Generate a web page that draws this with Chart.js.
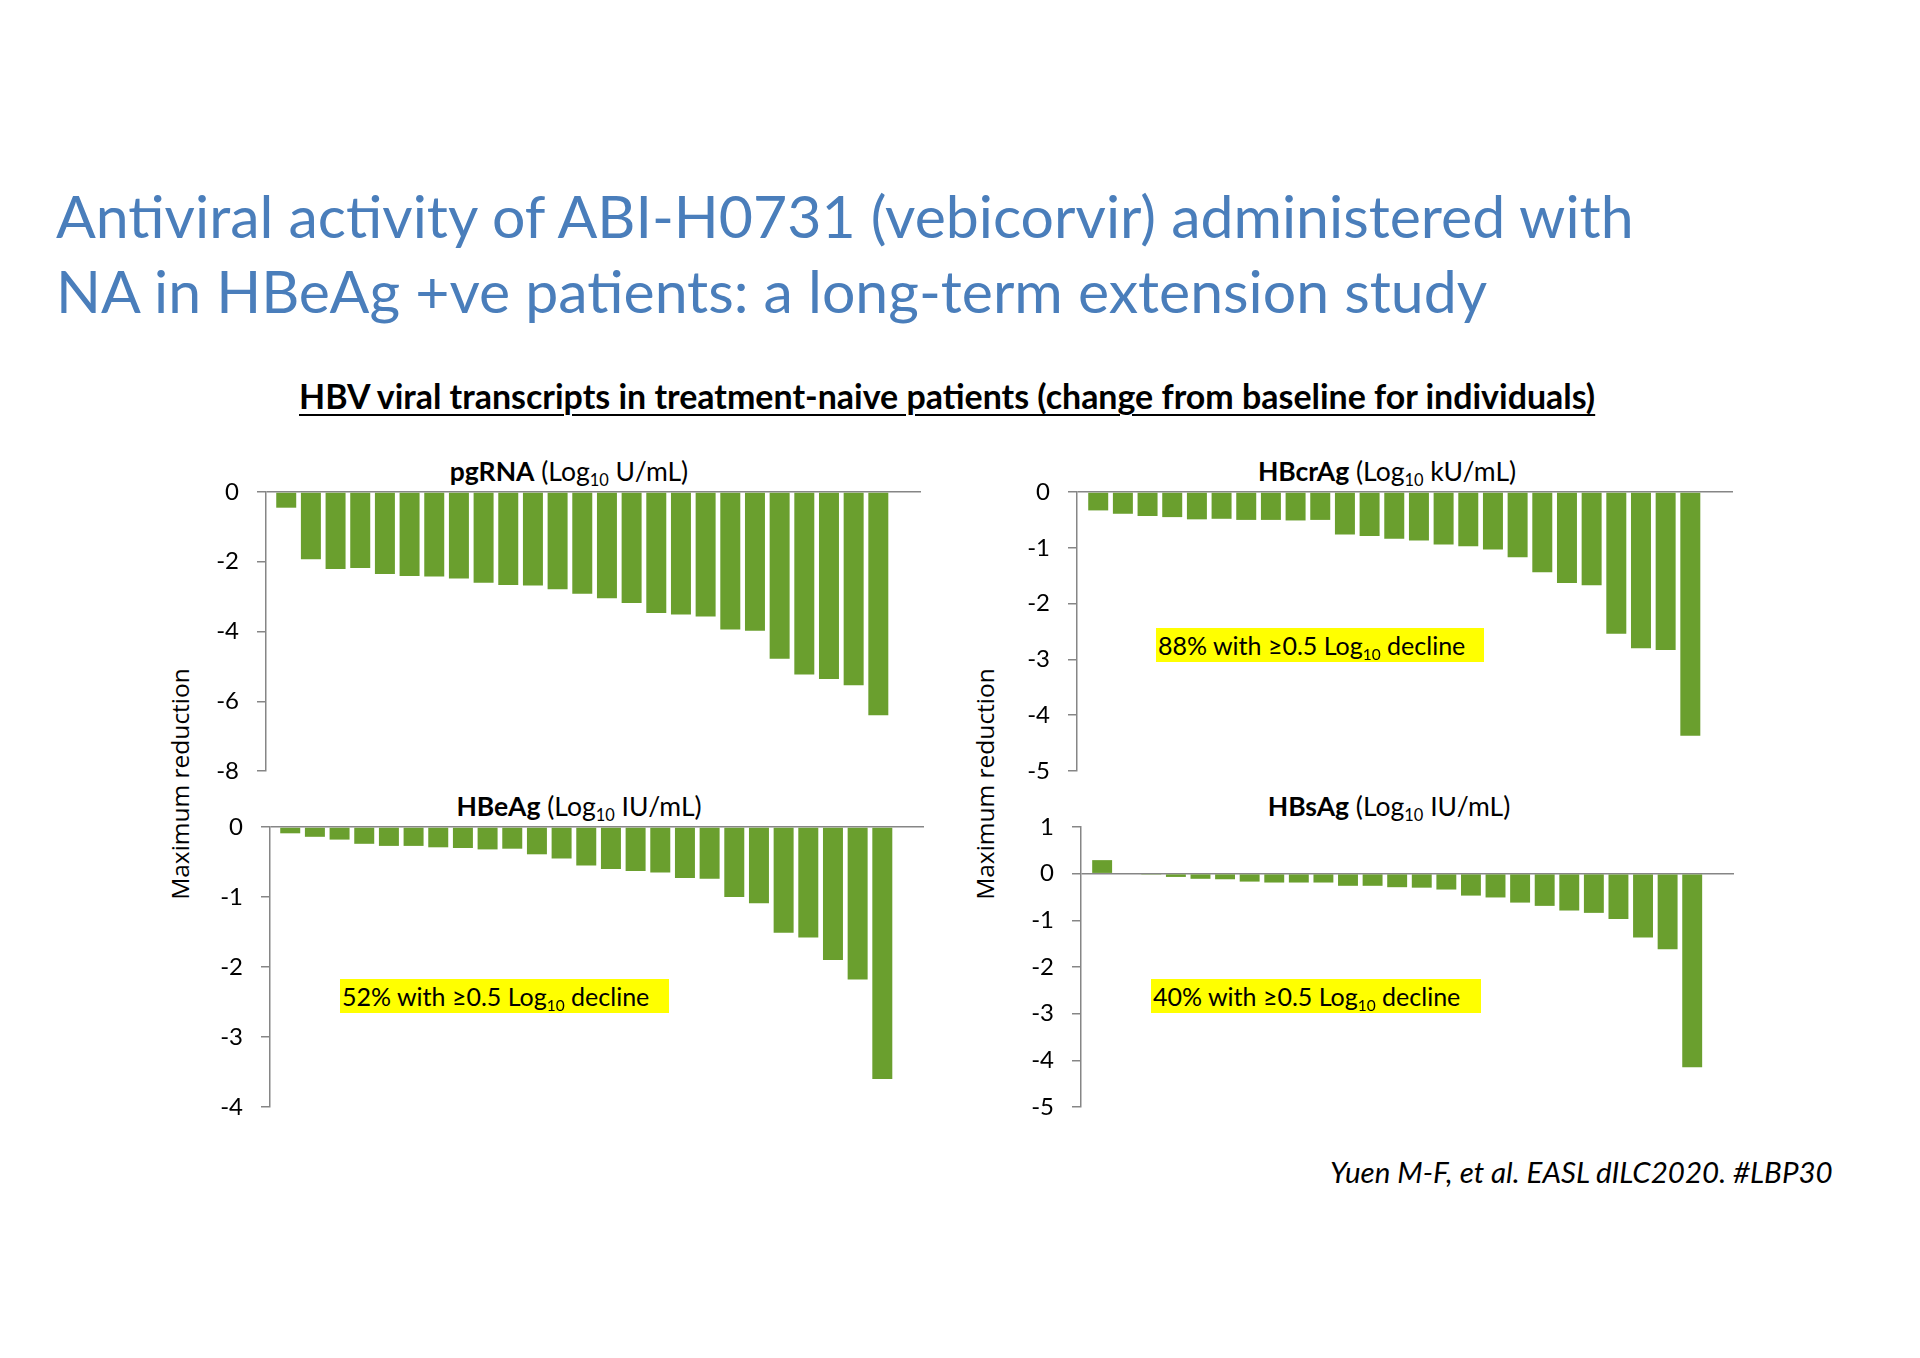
<!DOCTYPE html>
<html>
<head>
<meta charset="utf-8">
<script src="https://cdn.jsdelivr.net/npm/chart.js"></script>
<style>
    body { margin: 0; background: #fff; }
    #page { position: relative; width: 1920px; height: 1358px; overflow: hidden; font-family: Lato, sans-serif; color: #000; }
    .txt { position: absolute; white-space: nowrap; line-height: 1; }
    .title { color: #4a7ebb; font-size: 58px; }
    .sub { font-weight: bold; font-size: 26px; text-decoration: underline; text-underline-offset: 5px; text-decoration-thickness: 2px; }
    .cite { font-style: italic; font-size: 25px; }
    .ptitle { font-size: 26.5px; transform: translateX(-50%); }
    .ytitle { font-family: "Open Sans", sans-serif; font-size: 24.5px; transform: translate(-50%, -50%) rotate(-90deg); }
    .note { position: absolute; background: #ffff00; font-size: 25px; height: 34px; line-height: 34px; padding-left: 2px; white-space: nowrap; box-sizing: border-box; }
    .s10 { font-size: 0.62em; position: relative; top: 0.3em; }
    .panel { position: absolute; line-height: 0; }
    .panel canvas { display: block; }
</style>
</head>
<body>
<div id="page">
    <div class="txt title" id="t1" data-base="239.5">Antiviral activity of ABI-H0731 (vebicorvir) administered with</div>
    <div class="txt title" id="t2" data-base="314.5">NA in HBeAg +ve patients: a long-term extension study</div>
    <div class="txt sub" id="sub" data-base="409">HBV viral transcripts in treatment-naive patients (change from baseline for individuals)</div>
    <div class="txt cite" id="cite" data-base="1183">Yuen M-F, et al. EASL dILC2020. #LBP30</div>

    <div class="txt ytitle" style="left:180px; top:784px;">Maximum reduction</div>
    <div class="txt ytitle" style="left:985px; top:784px;">Maximum reduction</div>

    <div class="txt ptitle" style="left:569px; top:458px;"><b>pgRNA</b> (Log<span class="s10">10</span> U/mL)</div>
    <div class="txt ptitle" style="left:1387px; top:458px;"><b>HBcrAg</b> (Log<span class="s10">10</span> kU/mL)</div>
    <div class="txt ptitle" style="left:579px; top:793px;"><b>HBeAg</b> (Log<span class="s10">10</span> IU/mL)</div>
    <div class="txt ptitle" style="left:1389px; top:793px;"><b>HBsAg</b> (Log<span class="s10">10</span> IU/mL)</div>

    <div id="p1" class="panel"></div>
    <div id="p2" class="panel"></div>
    <div id="p3" class="panel"></div>
    <div id="p4" class="panel"></div>

    <div class="note" style="left:1156px; top:628px; width:328px;">88% with ≥0.5 Log<span class="s10">10</span> decline</div>
    <div class="note" style="left:340px; top:979px; width:329px;">52% with ≥0.5 Log<span class="s10">10</span> decline</div>
    <div class="note" style="left:1151px; top:979px; width:330px;">40% with ≥0.5 Log<span class="s10">10</span> decline</div>
</div>

<script>
// maximum reduction per patient (25 patients)
const pgRNA = [-0.45, -1.93, -2.21, -2.18, -2.35, -2.41, -2.42, -2.48, -2.60, -2.67, -2.68, -2.79, -2.92,
    -3.05, -3.18, -3.47, -3.51, -3.57, -3.94, -3.98, -4.78, -5.23, -5.36, -5.54, -6.40];
const hbcrAg = [-0.33, -0.39, -0.43, -0.45, -0.49, -0.48, -0.50, -0.50, -0.51, -0.50, -0.76, -0.79, -0.84,
    -0.87, -0.94, -0.97, -1.03, -1.17, -1.44, -1.63, -1.67, -2.54, -2.80, -2.83, -4.37];
const hbeAg = [-0.09, -0.14, -0.18, -0.24, -0.27, -0.27, -0.29, -0.30, -0.32, -0.31, -0.39, -0.45, -0.55,
    -0.60, -0.63, -0.65, -0.73, -0.74, -1.00, -1.09, -1.51, -1.58, -1.90, -2.18, -3.60];
const hbsAg = [0.29, 0, -0.01, -0.07, -0.11, -0.12, -0.17, -0.19, -0.19, -0.19, -0.26, -0.26, -0.29,
    -0.30, -0.34, -0.47, -0.51, -0.62, -0.69, -0.79, -0.84, -0.97, -1.37, -1.62, -4.15];

// y axis ranges (min, max, step) for each panel
const pgRNATicks = [-8, 0, 2];
const hbcrAgTicks = [-5, 0, 1];
const hbeAgTicks = [-4, 0, 1];
const hbsAgTicks = [-5, 1, 1];

const barColor = '#6a9f2e';
const axisColor = '#868686';

// fit a text line to a width and put its baseline where it belongs
function fitText(el, width) {
    const size = parseFloat(getComputedStyle(el).fontSize);
    const w = el.getBoundingClientRect().width;
    const newSize = size * width / w;
    el.style.fontSize = newSize + 'px';
    return newSize;
}
function placeBaseline(el, size) {
    el.style.top = (parseFloat(el.dataset.base) - 0.887 * size) + 'px';
}

function makePanel(id, values, ticks, box) {
    const holder = document.getElementById(id);
    const canvas = document.createElement('canvas');
    const w = Math.round(box.endX - box.axisX + 110);
    const h = Math.round(box.bottomY - box.topY + 40);
    canvas.width = w;
    canvas.height = h;
    holder.style.left = (box.axisX - 100) + 'px';
    holder.style.top = (box.topY - 20) + 'px';
    holder.appendChild(canvas);

    new Chart(canvas.getContext('2d'), {
        type: 'bar',
        data: {
            datasets: [{
                data: values.map((v, i) => ({ x: i + 1, y: v })),
                backgroundColor: barColor,
                borderWidth: 0,
                barPercentage: 0.81,
                categoryPercentage: 1
            }]
        },
        options: {
            responsive: false,
            animation: false,
            devicePixelRatio: 1,
            layout: { padding: { top: 20, bottom: 20, left: 0, right: 10 } },
            plugins: { legend: { display: false }, tooltip: { enabled: false } },
            scales: {
                x: {
                    type: 'linear',
                    display: false,
                    offset: false,
                    min: box.xMin,
                    max: box.xMax
                },
                y: {
                    min: ticks[0],
                    max: ticks[1],
                    // fixed label column, and no extra room above/below for the labels
                    afterFit: (scale) => {
                        scale.width = 100;
                        scale.paddingTop = 0;
                        scale.paddingBottom = 0;
                    },
                    border: { display: true, color: axisColor, width: 1.5 },
                    grid: {
                        color: (ctx) => (ctx.tick && ctx.tick.value === 0 ? axisColor : 'rgba(0,0,0,0)'),
                        lineWidth: 1.5,
                        tickColor: axisColor,
                        tickLength: 9,
                        drawTicks: true
                    },
                    ticks: {
                        stepSize: ticks[2],
                        padding: 18,
                        color: '#000',
                        font: { family: 'Lato', size: 24 }
                    }
                }
            }
        }
    });
}

window.onload = function() {
    const t1 = document.getElementById('t1');
    const t2 = document.getElementById('t2');
    const sub = document.getElementById('sub');
    const cite = document.getElementById('cite');

    const titleSize = fitText(t1, 1578);
    t2.style.fontSize = titleSize + 'px';
    t1.style.left = '56px';
    t2.style.left = '56px';
    placeBaseline(t1, titleSize);
    placeBaseline(t2, titleSize);

    const subSize = fitText(sub, 1297);
    sub.style.left = '299px';
    placeBaseline(sub, subSize);

    const citeSize = fitText(cite, 503);
    cite.style.left = (1833 - 503) + 'px';
    placeBaseline(cite, citeSize);

    makePanel('p1', pgRNA, pgRNATicks, { axisX: 266, endX: 921, topY: 492, bottomY: 771, xMin: 0.18, xMax: 26.73 });
    makePanel('p2', hbcrAg, hbcrAgTicks, { axisX: 1076.5, endX: 1732, topY: 492, bottomY: 771, xMin: 0.14, xMax: 26.73 });
    makePanel('p3', hbeAg, hbeAgTicks, { axisX: 270, endX: 924, topY: 826.5, bottomY: 1106, xMin: 0.18, xMax: 26.69 });
    makePanel('p4', hbsAg, hbsAgTicks, { axisX: 1080.5, endX: 1733, topY: 826.5, bottomY: 1106, xMin: 0.14, xMax: 26.7 });
};
</script>
</body>
</html>
